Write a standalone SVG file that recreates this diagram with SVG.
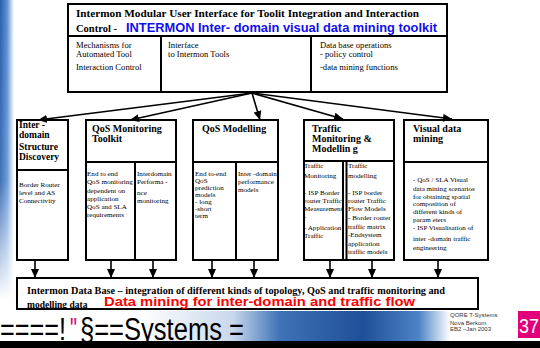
<svg xmlns="http://www.w3.org/2000/svg" width="540" height="348" viewBox="0 0 540 348">
<defs>
<style>
.bx{fill:#fff;stroke:#000;stroke-width:2}
.ln{stroke:#000;stroke-width:2;fill:none}
.hd{font-family:'Liberation Serif',serif;font-weight:bold;font-size:10px;fill:#000}
.tx{font-family:'Liberation Serif',serif;font-size:7.1px;fill:#000}
.tt{font-family:'Liberation Serif',serif;font-size:8.6px;fill:#000}
.ft{font-family:'Liberation Sans',Arial,sans-serif;font-size:31px}
.cn{stroke:#000;stroke-width:1.6;fill:none;marker-end:url(#ah)}
</style>
<marker id="ah" markerUnits="userSpaceOnUse" markerWidth="9" markerHeight="8" refX="9" refY="4" orient="auto">
<path d="M0,0 L9,4 L0,8 z" fill="#000"/>
</marker>
<linearGradient id="strip" x1="0" y1="0" x2="1" y2="0">
<stop offset="0" stop-color="#2b5fae"/>
<stop offset="0.5" stop-color="#5b8fd0"/>
<stop offset="0.8" stop-color="#b9d3ef"/>
<stop offset="1" stop-color="#ffffff"/>
</linearGradient>
<linearGradient id="fade" x1="0" y1="0" x2="0" y2="1">
<stop offset="0" stop-color="#fff" stop-opacity="0"/>
<stop offset="0.6" stop-color="#fff" stop-opacity="0.1"/>
<stop offset="1" stop-color="#fff" stop-opacity="1"/>
</linearGradient>
<linearGradient id="band" x1="0" y1="0" x2="1" y2="0">
<stop offset="0" stop-color="#ffffff"/>
<stop offset="0.3" stop-color="#c8d8ec"/>
<stop offset="0.45" stop-color="#3f72b6"/>
<stop offset="0.72" stop-color="#1f4f98"/>
<stop offset="0.9" stop-color="#4d84c6"/>
<stop offset="1" stop-color="#ffffff"/>
</linearGradient>
</defs>
<rect x="0" y="0" width="540" height="348" fill="#fff"/>
<g id="decor">
<rect x="0" y="0" width="14" height="300" fill="url(#strip)"/>
<rect x="0" y="0" width="14" height="300" fill="url(#fade)"/>
<rect x="140" y="311" width="310" height="30" fill="url(#band)"/>
<rect x="0" y="341" width="540" height="7" fill="#000"/>
<text class="ft" x="0" y="340" fill="#000" textLength="66" lengthAdjust="spacingAndGlyphs">====!</text>
<text class="ft" x="70" y="340" fill="#e0006e" textLength="7" lengthAdjust="spacingAndGlyphs">"</text>
<text class="ft" x="80" y="340" fill="#000" textLength="164" lengthAdjust="spacingAndGlyphs">§==Systems =</text>
<text font-family="'Liberation Sans',Arial,sans-serif" font-size="6" fill="#333"><tspan x="450" y="317">QORE T-Systems</tspan><tspan x="450" y="325">Nova Berkom</tspan><tspan x="450" y="331">EB2 –Jan 2003</tspan></text>
<rect x="518" y="311" width="22" height="27" fill="#e2007a"/>
<text x="519" y="333" font-family="'Liberation Sans',Arial,sans-serif" font-size="20" fill="#fff" textLength="20" lengthAdjust="spacingAndGlyphs">37</text>
</g>
<g id="top">
<rect class="bx" x="68" y="4" width="379" height="88"/>
<line class="ln" x1="68" y1="36" x2="447" y2="36"/>
<line class="ln" x1="161" y1="36" x2="161" y2="92"/>
<line class="ln" x1="311" y1="36" x2="311" y2="92"/>
<text class="hd" x="76" y="17" style="font-size:10.5px" textLength="343" lengthAdjust="spacingAndGlyphs">Intermon Modular User Interface for Toolit Integration and Interaction</text>
<text class="hd" x="76" y="32" style="font-size:10.5px">Control - </text>
<text x="126" y="32" font-family="'Liberation Sans',Arial,sans-serif" font-weight="bold" font-size="12" fill="#1010ee" textLength="311" lengthAdjust="spacingAndGlyphs">INTERMON Inter- domain visual data mining toolkit</text>
<text class="tt"><tspan x="76" y="48">Mechanisms for</tspan><tspan x="76" y="57">Automated  Tool</tspan><tspan x="76" y="70">Interaction Control</tspan></text>
<text class="tt"><tspan x="168" y="48">Interface</tspan><tspan x="168" y="57">to Intermon Tools</tspan></text>
<text class="tt"><tspan x="320" y="48">Data base operations</tspan><tspan x="320" y="57">- policy control</tspan><tspan x="320" y="70">-data mining functions</tspan></text>
</g>
<g id="box1">
<rect class="bx" x="17" y="120" width="51" height="140"/>
<line class="ln" x1="17" y1="170" x2="68" y2="170"/>
<text class="hd" style="font-size:9.5px"><tspan x="19" y="128">Inter -</tspan><tspan x="19" y="138">domain</tspan><tspan x="19" y="150">Structure</tspan><tspan x="19" y="160">Discovery</tspan></text>
<text class="tx"><tspan x="19" y="187">Border Router</tspan><tspan x="19" y="195">level and AS</tspan><tspan x="19" y="203">Connectivity</tspan></text>
</g>
<g id="box2">
<rect class="bx" x="86" y="120" width="90" height="140"/>
<line class="ln" x1="86" y1="162" x2="176" y2="162"/>
<line class="ln" x1="135" y1="162" x2="135" y2="260" stroke-width="3"/>
<text class="hd"><tspan x="92" y="132">QoS Monitoring</tspan><tspan x="92" y="142">Toolkit</tspan></text>
<text class="tx"><tspan x="87" y="176">End to end</tspan><tspan x="87" y="184">QoS monitoring</tspan><tspan x="87" y="193">dependent on</tspan><tspan x="87" y="201">application</tspan><tspan x="87" y="209">QoS and SLA</tspan><tspan x="87" y="217">requirements</tspan></text>
<text class="tx"><tspan x="137" y="176">Interdomain</tspan><tspan x="137" y="184">Performa -</tspan><tspan x="137" y="195">nce</tspan><tspan x="137" y="203">monitoring</tspan></text>
</g>
<g id="box3">
<rect class="bx" x="193" y="120" width="85" height="140"/>
<line class="ln" x1="193" y1="162" x2="278" y2="162"/>
<line class="ln" x1="236" y1="162" x2="236" y2="260"/>
<text class="hd" x="202" y="132">QoS Modelling</text>
<text class="tx"><tspan x="195" y="176">End to-end</tspan><tspan x="195" y="183">QoS</tspan><tspan x="195" y="190">prediction</tspan><tspan x="195" y="197">models</tspan><tspan x="195" y="204">- long</tspan><tspan x="195" y="211">-short</tspan><tspan x="195" y="218">term</tspan></text>
<text class="tx"><tspan x="238" y="176">Inter -domain</tspan><tspan x="238" y="184">performance</tspan><tspan x="238" y="192">models</tspan></text>
</g>
<g id="box4">
<rect class="bx" x="304" y="120" width="90" height="140"/>
<line class="ln" x1="304" y1="161" x2="394" y2="161"/>
<line class="ln" x1="343" y1="161" x2="343" y2="260"/>
<line class="ln" x1="346.5" y1="161" x2="346.5" y2="260"/>
<text class="hd"><tspan x="312" y="132">Traffic</tspan><tspan x="312" y="142">Monitoring  &amp;</tspan><tspan x="312" y="152">Modellin g</tspan></text>
<text class="tx"><tspan x="304" y="168">Traffic</tspan><tspan x="304" y="178">Monitoring</tspan><tspan x="304" y="195">- ISP Border</tspan><tspan x="304" y="203">router Traffic</tspan><tspan x="304" y="211">Measurement</tspan><tspan x="304" y="219">-</tspan><tspan x="304" y="230">- Application</tspan><tspan x="304" y="238">Traffic</tspan></text>
<text class="tx"><tspan x="348" y="168">Traffic</tspan><tspan x="348" y="178">modelling</tspan><tspan x="348" y="195">- ISP border</tspan><tspan x="348" y="203">router Traffic</tspan><tspan x="348" y="211">Flow Models</tspan><tspan x="348" y="220">- Border router</tspan><tspan x="348" y="229">traffic matrix</tspan><tspan x="348" y="237">-Endsystem</tspan><tspan x="348" y="246">application</tspan><tspan x="348" y="254">traffic models</tspan></text>
</g>
<g id="box5">
<rect class="bx" x="404" y="120" width="84" height="140"/>
<line class="ln" x1="404" y1="162" x2="488" y2="162"/>
<text class="hd"><tspan x="413" y="132">Visual data</tspan><tspan x="413" y="142">mining</tspan></text>
<text class="tx"><tspan x="413" y="182">- QoS / SLA Visual</tspan><tspan x="413" y="191">data mining scenarios</tspan><tspan x="413" y="199">for  obtaining spatial</tspan><tspan x="413" y="206">composition of</tspan><tspan x="413" y="214">different kinds of</tspan><tspan x="413" y="222">param eters</tspan><tspan x="413" y="230">- ISP Visualisation of</tspan><tspan x="413" y="241">inter -domain traffic</tspan><tspan x="413" y="250">engineering</tspan></text>
</g>
<g id="database">
<rect class="bx" x="17" y="278" width="461" height="31"/>
<text class="hd" x="27" y="294" style="font-size:9.5px" textLength="418" lengthAdjust="spacingAndGlyphs">Intermon Data Base – integration of different kinds of topology, QoS and traffic monitoring and</text>
<text class="hd" x="27" y="308" style="font-size:9.5px">modelling data</text>
<text x="104" y="306" font-family="'Liberation Sans',Arial,sans-serif" font-weight="bold" font-size="13" fill="#ff0000" textLength="311" lengthAdjust="spacingAndGlyphs">Data mining for inter-domain and traffic flow</text>
</g>
<g id="connectors">
<line class="cn" x1="252" y1="93" x2="38" y2="120"/>
<line class="cn" x1="252" y1="93" x2="130" y2="120"/>
<line class="cn" x1="252" y1="93" x2="260" y2="120"/>
<line class="cn" x1="252" y1="93" x2="343" y2="119"/>
<line class="cn" x1="252" y1="93" x2="452" y2="119"/>
<line class="cn" x1="35" y1="260" x2="35" y2="278"/>
<line class="cn" x1="111" y1="260" x2="111" y2="278"/>
<line class="cn" x1="153" y1="260" x2="153" y2="278"/>
<line class="cn" x1="212" y1="260" x2="212" y2="278"/>
<line class="cn" x1="254" y1="260" x2="254" y2="278"/>
<line class="cn" x1="330" y1="260" x2="330" y2="278"/>
<line class="cn" x1="372" y1="260" x2="372" y2="278"/>
<line class="cn" x1="438" y1="260" x2="438" y2="278"/>
</g>
</svg>
